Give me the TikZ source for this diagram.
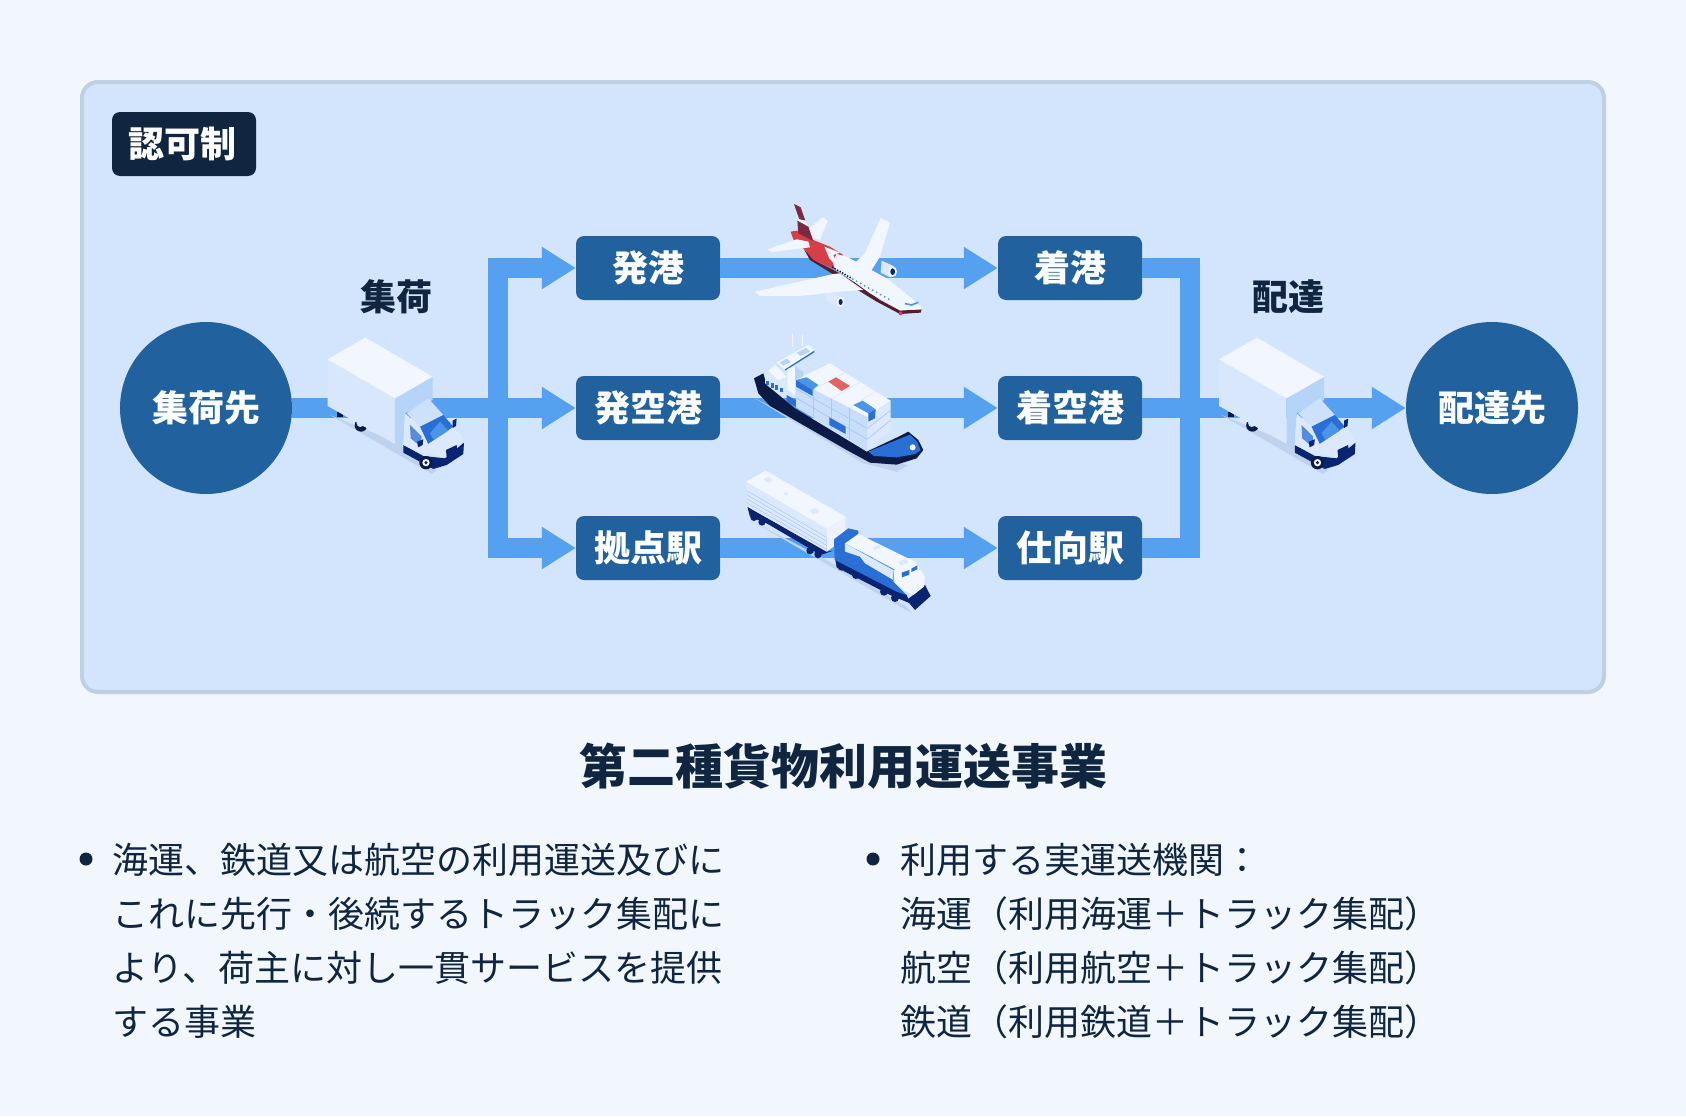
\documentclass[tikz,border=0pt]{standalone}
\usepackage{fontspec}
\setmainfont{Noto Sans CJK JP}
\usetikzlibrary{positioning,arrows.meta}
\definecolor{pagebg}{HTML}{F2F7FE}
\definecolor{panelbg}{HTML}{D3E5FC}
\definecolor{panelline}{HTML}{BFD0E3}
\definecolor{navy}{HTML}{10253F}
\definecolor{boxblue}{HTML}{21619E}
\definecolor{flowblue}{HTML}{56A0F0}
\definecolor{palewhite}{HTML}{F1F6FF}
\definecolor{paleface}{HTML}{DCE9FC}
\definecolor{midface}{HTML}{B6D3F8}
\definecolor{shadowblue}{HTML}{BED2EE}
\definecolor{gridblue}{HTML}{A9C8F2}
\definecolor{brightblue}{HTML}{2A6FD6}
\definecolor{skyblue}{HTML}{4B95E8}
\definecolor{darknavy}{HTML}{0A2472}
\definecolor{hullnavy}{HTML}{0B1B45}
\definecolor{planered}{HTML}{D63F48}
\definecolor{maroon}{HTML}{7A2A42}
\definecolor{crate}{HTML}{E06464}
\tikzset{
  place/.style={rectangle, rounded corners=8pt, fill=boxblue, text=white, font=\bfseries\fontsize{36pt}{36pt}\selectfont,
    minimum width=144pt, minimum height=64pt, inner sep=0pt},
  endpoint/.style={circle, fill=boxblue, text=white, font=\bfseries\fontsize{36pt}{36pt}\selectfont,
    minimum size=172pt, inner sep=0pt},
  flow/.style={draw=flowblue, line width=20pt, -{Triangle[length=34pt,width=40pt]}},
  flowbare/.style={draw=flowblue, line width=20pt},
  steplabel/.style={text=navy, font=\bfseries\fontsize{36pt}{36pt}\selectfont},
  bodytext/.style={text=navy, font=\fontsize{36pt}{54pt}\selectfont, align=left, anchor=north west, inner sep=0pt},
  dotmark/.style={circle, fill=navy, minimum size=13pt, inner sep=0pt},
  icon/.style={x=0.3333pt, y=-0.3333pt},
}
\newcommand{\truck}[1]{
  \begin{scope}[shift={(#1)}, icon]
    \fill[shadowblue] (120,345) -- (330,432) -- (440,510) -- (425,522) -- cycle;
    \fill[hullnavy] (140,335) -- (158,335) -- (158,350) -- (140,350) -- cycle;
    \fill[hullnavy] (213,376) circle (19);
    \fill[panelbg] (211,370) circle (11);
    % box
    \fill[paleface!60!panelbg] (113,178) -- (315,295) -- (315,432) -- (113,318) -- cycle;
    \fill[midface] (315,295) -- (428,230) -- (428,300) -- (345,340) -- (340,435) -- (315,432) -- cycle;
    \fill[palewhite] (113,178) -- (226,113) -- (428,230) -- (315,295) -- cycle;
    % cab
    \fill[darknavy] (340,435) -- (400,468) -- (465,475) -- (522,428) -- (520,462) -- (470,495) -- (430,507) -- (340,458) -- cycle;
    \fill[paleface] (345,340) -- (390,380) -- (415,432) -- (412,470) -- (340,435) -- cycle;
    \fill[brightblue!80!white] (360,375) -- (395,410) -- (392,440) -- (362,415) -- cycle;
    \fill[midface!60!palewhite] (350,340) -- (415,295) -- (460,345) -- (390,380) -- cycle;
    \fill[brightblue] (390,380) -- (460,345) -- (490,380) -- (415,432) -- cycle;
    \fill[skyblue] (420,400) -- (450,365) -- (475,392) -- (432,420) -- cycle;
    \fill[paleface] (415,432) -- (490,385) -- (515,405) -- (520,425) -- (465,472) -- (415,460) -- cycle;
    \fill[darknavy] (468,450) -- (500,435) -- (502,458) -- (470,472) -- cycle;
    \fill[darknavy] (488,362) -- (500,356) -- (498,378) -- (488,384) -- cycle;
    \fill[darknavy] (382,425) -- (400,418) -- (398,435) -- (384,442) -- cycle;
    \fill[hullnavy] (408,488) circle (20);
    \fill[palewhite] (408,488) circle (11);
    \fill[darknavy] (408,488) circle (5);
  \end{scope}
}
\begin{document}
\begin{tikzpicture}[x=1pt,y=-1pt]
  \useasboundingbox (0,0) rectangle (1686,1116);
  \fill[pagebg] (0,0) rectangle (1686,1116);
  \draw[fill=panelbg, draw=panelline, line width=4pt, rounded corners=16pt] (82,82) rectangle (1604,692);

  % stations
  \node[place] (dep-port) at (648,268) {\raisebox{-1pt}{発港}};
  \node[place] (dep-air) at (648,408) {\raisebox{-1pt}{発空港}};
  \node[place] (dep-rail) at (648,548) {\raisebox{-1pt}{拠点駅}};
  \node[place] (arr-port) at (1070,268) {\raisebox{-1pt}{着港}};
  \node[place] (arr-air) at (1070,408) {\raisebox{-1pt}{着空港}};
  \node[place] (arr-rail) at (1070,548) {\raisebox{-1pt}{仕向駅}};
  \node[endpoint] (origin) at (206,408) {集荷先};
  \node[endpoint] (dest) at (1492,408) {配達先};

  \coordinate (split) at (498,408);
  \coordinate (merge) at (1190,408);
  \coordinate (split-up) at (498,268);
  \coordinate (split-down) at (498,548);
  \coordinate (merge-up) at (1190,268);
  \coordinate (merge-down) at (1190,548);

  % arrows
  \draw[flowbare] (origin) -- (split);
  \draw[flowbare, line cap=rect] (split-up) -- (split-down);
  \draw[flow] (split-up) -- (dep-port);
  \draw[flow] (split) -- (dep-air);
  \draw[flow] (split-down) -- (dep-rail);
  \draw[flow] (dep-port) -- (arr-port);
  \draw[flow] (dep-air) -- (arr-air);
  \draw[flow] (dep-rail) -- (arr-rail);
  \draw[flowbare] (arr-port) -- (merge-up);
  \draw[flowbare] (arr-air) -- (merge);
  \draw[flowbare] (arr-rail) -- (merge-down);
  \draw[flowbare, line cap=rect] (merge-up) -- (merge-down);
  \draw[flow] (merge) -- (dest);

  % trucks
  \truck{290,300}
  \truck{1181.5,300}

  % plane
  \begin{scope}[shift={(730,190)}, icon]
    \fill[palewhite] (238,115) -- (278,82) -- (293,92) -- (270,150) -- (235,140) -- cycle;
    \fill[palewhite] (375,218) -- (405,190) -- (452,84) -- (480,98) -- (450,200) -- (425,240) -- (400,240) -- cycle;
    \fill[paleface] (455,212) -- (490,228) -- (498,250) -- (480,262) -- (452,248) -- cycle;
    \fill[palewhite] (488,245) ellipse (13 and 16);
    \fill[darknavy] (488,245) ellipse (7 and 10);
    \fill[maroon] (192,42) -- (212,52) -- (226,92) -- (208,88) -- cycle;
    \fill[palewhite] (208,88) -- (226,92) -- (235,110) -- (202,92) -- cycle;
    \fill[maroon!70!black] (222,178) -- (260,215) -- (310,240) -- (380,280) -- (450,330) -- (510,362) -- (575,358) -- (572,368) -- (510,372) -- (440,335) -- (370,292) -- (300,247) -- (240,210) -- cycle;
    \fill[planered] (182,125) -- (200,122) -- (250,150) -- (300,170) -- (340,195) -- (320,210) -- (315,238) -- (250,210) -- (225,180) -- (190,148) -- cycle;
    \fill[maroon] (202,92) -- (235,110) -- (250,153) -- (205,130) -- cycle;
    \fill[palewhite] (320,192) -- (350,200) -- (470,265) -- (545,325) -- (575,352) -- (575,358) -- (510,360) -- (420,310) -- (365,270) -- (315,238) -- (308,215) -- cycle;
    \fill[palewhite] (283,170) -- (330,188) -- (310,195) -- (325,235) -- (298,205) -- cycle;
    \fill[palewhite] (112,178) -- (200,148) -- (235,155) -- (240,172) -- (125,186) -- cycle;
    \fill[palewhite] (75,305) -- (310,252) -- (330,250) -- (400,300) -- (330,305) -- (210,318) -- (90,318) -- cycle;
    \fill[paleface] (285,315) -- (305,308) -- (340,325) -- (340,350) -- (318,350) -- (290,332) -- cycle;
    \fill[palewhite] (332,336) ellipse (11 and 15);
    \fill[darknavy] (332,336) ellipse (6 and 9);
    \foreach \n in {0,...,7}
      \fill[hullnavy] ({308+\n*7.5},{232+\n*4.3}) circle (3);
    \foreach \n in {0,...,9}
      \fill[skyblue] ({368+\n*12},{267+\n*6.7}) circle (3);
    \draw[skyblue, line width=1.6pt] (525,341) -- (545,345) -- (565,337);
    \fill[planered] (512,370) circle (6);
  \end{scope}

  % ship
  \begin{scope}[shift={(730,330)}, icon]
    \fill[shadowblue] (75,205) -- (400,400) -- (500,425) -- (535,405) -- (420,385) -- cycle;
    \fill[hullnavy] (72,145) -- (100,130) -- (110,165) -- (195,235) -- (410,365) -- (510,318) -- (535,305) -- (565,330) -- (580,360) -- (560,385) -- (500,404) -- (420,398) -- (350,360) -- (120,228) -- (85,190) -- cycle;
    \fill[brightblue] (415,365) -- (510,326) -- (540,314) -- (562,336) -- (572,360) -- (556,372) -- (500,382) -- (432,378) -- cycle;
    \fill[brightblue] (170,195) -- (200,212) -- (200,232) -- (170,215) -- cycle;
    \fill[palewhite] (548,352) circle (9);
    % superstructure
    \draw[palewhite, line width=1.2pt] (188,8) -- (188,50);
    \draw[palewhite, line width=1.2pt] (218,15) -- (218,48);
    \fill[paleface] (105,138) -- (135,105) -- (170,140) -- (170,190) -- (135,180) -- (105,160) -- cycle;
    \fill[palewhite] (115,122) -- (135,105) -- (170,140) -- (145,150) -- cycle;
    \fill[palewhite] (172,115) -- (195,110) -- (195,195) -- (172,180) -- cycle;
    \fill[midface] (195,110) -- (220,125) -- (220,140) -- (195,150) -- cycle;
    \fill[palewhite] (140,97) -- (235,45) -- (253,60) -- (165,118) -- cycle;
    \fill[brightblue] (165,118) -- (253,62) -- (253,67) -- (165,122) -- cycle;
    \fill[midface] (150,97) -- (170,86) -- (182,96) -- (160,107) -- cycle;
    \fill[midface] (200,68) -- (228,54) -- (240,64) -- (212,78) -- cycle;
    \foreach \n in {0,1,2,3}
      \fill[brightblue] ({108+\n*14},{152+\n*7}) rectangle ++(9,14);
    % containers
    \fill[midface!70!palewhite] (198,150) -- (412,262) -- (412,362) -- (198,232) -- cycle;
    \fill[paleface] (412,262) -- (482,212) -- (482,300) -- (412,362) -- cycle;
    \fill[palewhite] (198,150) -- (300,100) -- (482,212) -- (412,262) -- cycle;
    \foreach \n in {1,2,3} {
      \draw[gridblue, line width=0.7pt] ({198+\n*53.5},{150+\n*28}) -- ({198+\n*53.5},{232+\n*32.5});
      \draw[paleface, line width=0.7pt] ({198+\n*53.5},{150+\n*28}) -- ({300+\n*45.5},{100+\n*28});
    }
    \foreach \n in {1,2} {
      \draw[gridblue, line width=0.7pt] (198,{150+\n*27}) -- (412,{262+\n*33});
      \draw[gridblue, line width=0.7pt] (412,{262+\n*33}) -- (482,{212+\n*29});
    }
    \fill[crate] (295,155) -- (318,142) -- (360,168) -- (335,183) -- cycle;
    \fill[skyblue] (198,150) -- (230,142) -- (265,165) -- (248,180) -- cycle;
    \fill[brightblue] (198,150) -- (248,180) -- (248,198) -- (198,170) -- cycle;
    \fill[skyblue] (370,225) -- (398,212) -- (437,238) -- (415,250) -- cycle;
    \fill[brightblue] (415,250) -- (437,238) -- (435,265) -- (415,275) -- cycle;
    \fill[brightblue] (298,262) -- (347,290) -- (347,312) -- (298,285) -- cycle;
  \end{scope}

  % train
  \begin{scope}[shift={(730,460)}, icon]
    \fill[shadowblue] (60,180) -- (290,300) -- (530,440) -- (545,458) -- (520,445) -- cycle;
    \fill[darknavy] (52,140) -- (290,275) -- (310,272) -- (272,285) -- (110,190) -- (60,170) -- cycle;
    \foreach \x/\y in {72/172,96/186,240/272,264/284}
      \fill[darknavy] (\x,\y) circle (11);
    \fill[paleface] (48,65) -- (290,205) -- (290,275) -- (52,140) -- cycle;
    \fill[palewhite!70!paleface] (290,205) -- (347,170) -- (345,235) -- (290,275) -- cycle;
    \fill[palewhite] (48,65) -- (107,32) -- (347,170) -- (290,205) -- cycle;
    \foreach \n in {1,...,4}
      \draw[gridblue, line width=0.5pt] (50,{80+\n*12}) -- (290,{220+\n*12});
    \fill[paleface] (100,58) -- (115,50) -- (130,60) -- (115,68) -- cycle;
    \fill[paleface] (160,100) -- (168,96) -- (175,102) -- (167,106) -- cycle;
    \fill[paleface] (238,152) -- (255,144) -- (268,154) -- (250,163) -- cycle;
    % loco
    \fill[darknavy] (315,295) -- (530,405) -- (540,430) -- (480,405) -- (320,322) -- cycle;
    \foreach \x/\y in {335/320,378/345,462/395,495/414}
      \fill[darknavy] (\x,\y) circle (12);
    \fill[darknavy] (550,405) -- (585,375) -- (602,408) -- (555,450) -- (530,420) -- cycle;
    \fill[brightblue] (312,238) -- (355,205) -- (385,212) -- (385,225) -- (345,250) -- (345,300) -- (314,300) -- cycle;
    \fill[brightblue] (345,250) -- (495,330) -- (490,365) -- (530,405) -- (500,395) -- (315,300) -- (345,275) -- cycle;
    \fill[paleface] (345,250) -- (490,330) -- (490,360) -- (405,310) -- (390,290) -- (345,275) -- cycle;
    \fill[palewhite] (345,250) -- (385,222) -- (555,305) -- (512,335) -- cycle;
    \fill[palewhite] (490,330) -- (555,305) -- (585,350) -- (582,380) -- (550,405) -- (520,390) -- (495,368) -- cycle;
    \fill[brightblue] (515,338) -- (538,330) -- (538,344) -- (516,352) -- cycle;
    \fill[brightblue] (544,326) -- (562,316) -- (562,328) -- (544,336) -- cycle;
    \fill[paleface] (430,262) -- (448,254) -- (450,264) -- (432,272) -- cycle;
    \fill[paleface] (505,305) -- (528,296) -- (535,308) -- (512,316) -- cycle;
  \end{scope}

  \node[rectangle, rounded corners=8pt, fill=navy, text=white, font=\bfseries\fontsize{36pt}{36pt}\selectfont,
    minimum width=144pt, minimum height=64pt, inner sep=0pt] (permit) at (184,144) {\hspace*{-4pt}認可制};
  \node[steplabel] (pickup) at (396,297) {集荷};
  \node[steplabel] (delivery) at (1288,297) {配達};
  \node[text=navy, font=\bfseries\fontsize{48pt}{48pt}\selectfont] (title) at (843,766) {第二種貨物利用運送事業};

  % bullets
  \node[dotmark] (bullet-left) at (86,859) {};
  \node[dotmark] (bullet-right) at (873,859) {};
  \node[bodytext] (left-text) at (112,843) {海運、鉄道又は航空の利用運送及びに\\これに先行・後続するトラック集配に\\より、荷主に対し一貫サービスを提供\\する事業};
  \node[bodytext] (right-text) at (900,843) {利用する実運送機関：\\海運（利用海運＋トラック集配）\\航空（利用航空＋トラック集配）\\鉄道（利用鉄道＋トラック集配）};
\end{tikzpicture}
\end{document}
